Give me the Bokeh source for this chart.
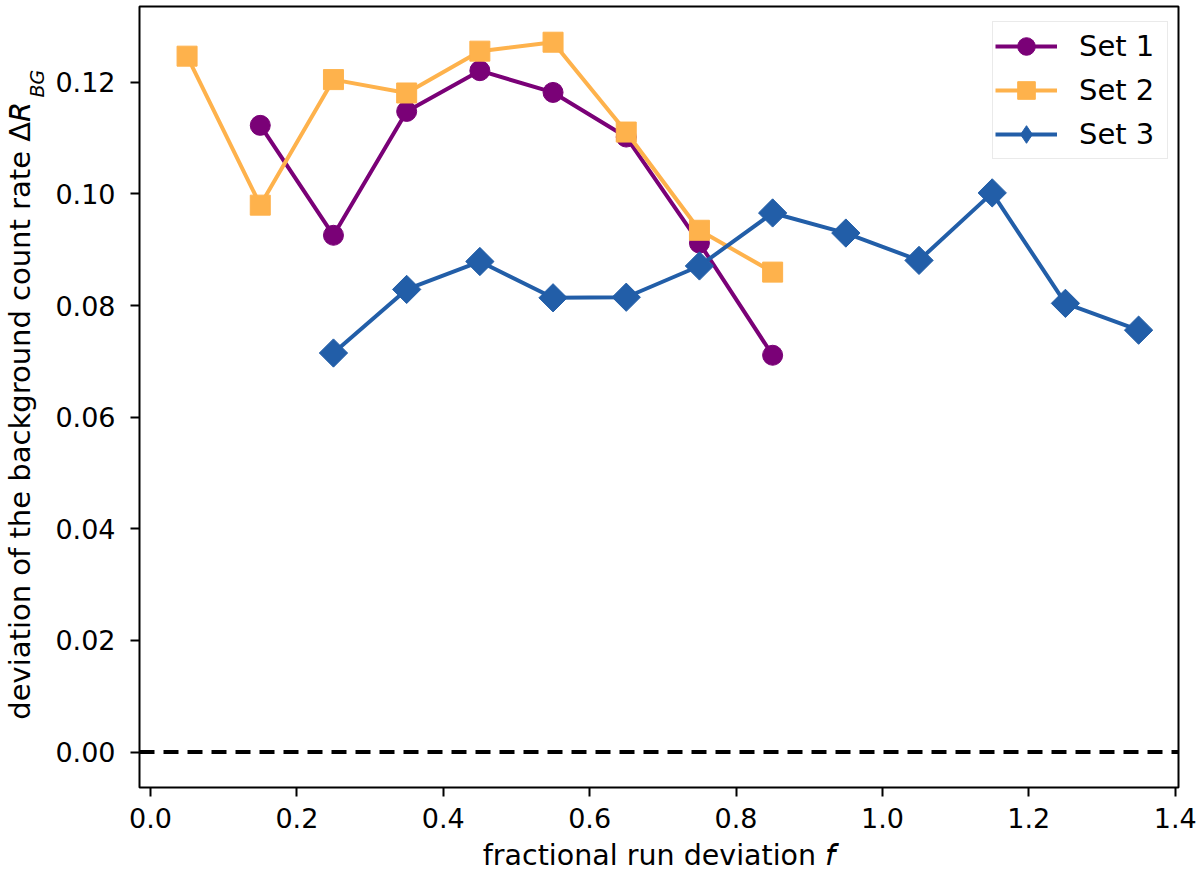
#!/usr/bin/env python3
"""
Background count rate deviation versus fractional run deviation,
for three data sets, drawn with Bokeh.
"""

import logging
import numpy as np
from bokeh.plotting import figure
from bokeh.embed import file_html
from bokeh.resources import INLINE
from bokeh.models import (ColumnDataSource, Span, Label, Legend, FixedTicker,
                          NumeralTickFormatter)

logging.basicConfig(level=logging.INFO, format='%(asctime)s - %(levelname)s - %(message)s')
logger = logging.getLogger(__name__)

# Data
set1_f = [0.15, 0.25, 0.35, 0.45, 0.55, 0.65, 0.75, 0.85]
set1_dev = [0.1123, 0.0926, 0.1148, 0.1221, 0.1182, 0.1102, 0.0912, 0.0711]

set2_f = [0.05, 0.15, 0.25, 0.35, 0.45, 0.55, 0.65, 0.75, 0.85]
set2_dev = [0.1247, 0.0980, 0.1205, 0.1181, 0.1256, 0.1272, 0.1111, 0.0935, 0.0860]

set3_f = [0.25, 0.35, 0.45, 0.55, 0.65, 0.75, 0.85, 0.95, 1.05, 1.15, 1.25, 1.35]
set3_dev = [0.0715, 0.0829, 0.0879, 0.0814, 0.0815, 0.0871, 0.0966, 0.0930,
            0.0881, 0.1002, 0.0804, 0.0756]

set_names = ["Set 1", "Set 2", "Set 3"]
x_ticks = [0.0, 0.2, 0.4, 0.6, 0.8, 1.0, 1.2, 1.4]
y_ticks = [0.00, 0.02, 0.04, 0.06, 0.08, 0.10, 0.12]

FONT = "DejaVu Sans"


def plot_deviation() -> figure:
    """Build the line + marker chart of the three sets."""
    p = figure(
        width=1200,
        height=876,
        x_range=(-0.015, 1.4045),
        y_range=(-0.00636, 0.1336),
        output_backend="svg",
        toolbar_location=None,
        min_border_left=135,
        min_border_right=16,
        min_border_top=6,
        min_border_bottom=89,
    )
    p.xgrid.visible = False
    p.ygrid.visible = False
    p.outline_line_color = "black"
    p.outline_line_width = 2
    p.background_fill_color = "white"
    p.border_fill_color = "white"

    # Axes look like matplotlib defaults
    p.xaxis.ticker = FixedTicker(ticks=x_ticks)
    p.yaxis.ticker = FixedTicker(ticks=y_ticks)
    p.xaxis.formatter = NumeralTickFormatter(format="0.0")
    p.yaxis.formatter = NumeralTickFormatter(format="0.00")
    for ax in (p.xaxis, p.yaxis):
        ax.axis_line_color = None
        ax.major_tick_out = 9
        ax.major_tick_in = 0
        ax.minor_tick_out = 0
        ax.minor_tick_in = 0
        ax.major_tick_line_width = 2
        ax.major_tick_line_color = "black"
        ax.major_label_text_font = FONT
        ax.major_label_text_font_size = "27px"
        ax.major_label_text_color = "black"
        ax.axis_label_text_font = FONT
        ax.axis_label_text_font_style = "normal"
        ax.axis_label_text_color = "black"
    p.xaxis.major_label_standoff = 11
    p.yaxis.major_label_standoff = 15

    # Axis titles; the italic letters are the sans-serif italic math characters
    p.xaxis.axis_label = "fractional run deviation \U0001D627"
    p.xaxis.axis_label_text_font_size = "28.5px"
    p.xaxis.axis_label_standoff = 8
    # trailing no-break spaces leave room for the subscript drawn below
    p.yaxis.axis_label = "deviation of the background count rate \u0394\U0001D619\u00a0\u00a0\u00a0"
    p.yaxis.axis_label_text_font_size = "29px"
    p.yaxis.axis_label_standoff = 15

    # Zero reference line
    p.add_layout(Span(location=0, dimension="width", line_color="black",
                      line_width=4, line_dash="15 9"))

    colors = ["#7a0177", "#feb24c", "#225ea8"]
    series = [(set1_f, set1_dev), (set2_f, set2_dev), (set3_f, set3_dev)]
    markers = [("circle", 0.0), ("square", 0.0), ("square", np.pi / 4)]

    legend_items = []
    for name, color, (xs, ys), (marker, angle) in zip(set_names, colors, series, markers):
        src = ColumnDataSource(dict(f=xs, dev=ys))
        line = p.line(x="f", y="dev", source=src, line_color=color, line_width=4)
        pts = p.scatter(x="f", y="dev", source=src, marker=marker, angle=angle, size=20,
                        fill_color=color, line_color=color)
        if angle:
            # legends ignore the marker angle, so give the legend a diamond symbol
            pts = p.scatter(x=[np.nan], y=[np.nan], marker="diamond", size=20,
                            fill_color=color, line_color=color)
        legend_items.append((name, [line, pts]))

    # Legend: location is its bottom-left corner in pixels from the frame's bottom-left
    legend = Legend(items=legend_items, location=(853, 628))
    legend.margin = 0
    legend.padding = 2
    legend.spacing = 0
    legend.glyph_width = 62
    legend.glyph_height = 44
    legend.label_height = 44
    legend.label_width = 86
    legend.label_standoff = 22
    legend.label_text_font = FONT
    legend.label_text_font_size = "29px"
    legend.label_text_color = "black"
    legend.border_line_color = "#d6d6d6"
    legend.border_line_width = 1.5
    legend.background_fill_color = "white"
    legend.background_fill_alpha = 0.8
    p.add_layout(legend)

    # Subscript of Delta R; kept in a side panel so it is not clipped by the frame
    p.add_layout(Label(x=-1142, y=690, angle=np.pi / 2, text="BG", text_align="left",
                       text_baseline="alphabetic", text_font_style="italic",
                       text_font=FONT, text_font_size="19px", text_color="black",
                       x_units="screen", y_units="screen"), "right")
    return p


if __name__ == "__main__":
    plot = plot_deviation()
    open("out.html", "w").write(file_html(plot, INLINE))
    logger.info("Wrote out.html")
